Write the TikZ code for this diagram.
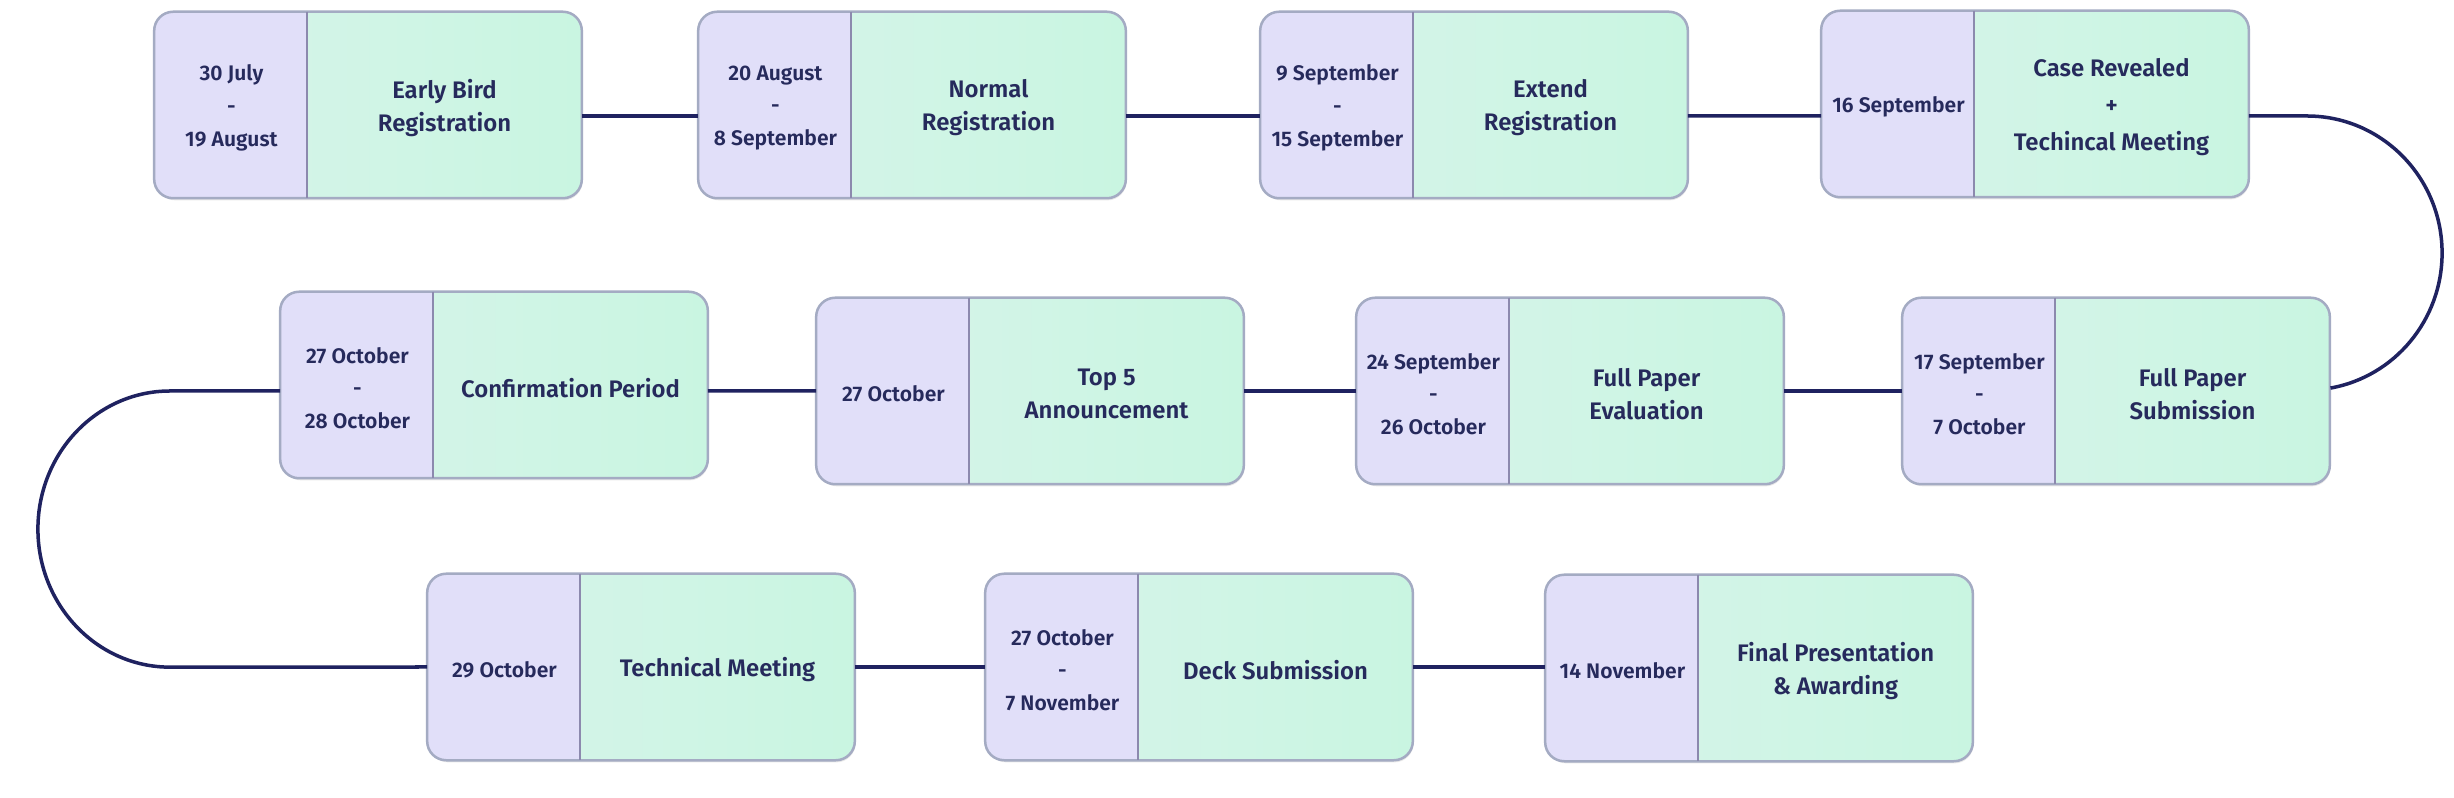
\documentclass[tikz,border=0pt]{standalone}
\usepackage{fontspec}
\setmainfont{Fira Sans}[BoldFont={Fira Sans SemiBold}]
\usetikzlibrary{shadows,calc}
\definecolor{lav}{HTML}{E1DFF9}
\definecolor{mintL}{HTML}{D8F4EB}
\definecolor{mintR}{HTML}{C9F5E1}
\definecolor{bord}{HTML}{A4ABC3}
\definecolor{divc}{HTML}{8C89AE}
\definecolor{txt}{HTML}{262A5C}
\definecolor{connc}{HTML}{1F2260}
\tikzset{
  boxshape/.style={rectangle, rounded corners=0.19cm, minimum width=4.26cm,
    minimum height=1.85cm, inner sep=0pt, left color=mintL, right color=mintR,
    drop shadow={opacity=0.18, shadow xshift=0.4pt, shadow yshift=-0.8pt}},
  boxborder/.style={draw=bord, line width=0.025cm, rounded corners=0.19cm},
  divline/.style={draw=divc, line width=0.02cm},
  datetext/.style={font=\bfseries\fontsize{6}{9.3}\selectfont, text=txt,
    align=center, inner sep=0pt},
  titletext/.style={font=\bfseries\fontsize{6.8}{9.4}\selectfont, text=txt,
    align=center, inner sep=0pt},
  conn/.style={draw=connc, line width=0.035cm},
}
\newcommand\tlbox[5]{%
  \node[boxshape] (#1) at (#2,#3) {};
  \begin{scope}
    \clip[rounded corners=0.19cm] (#1.north west) rectangle (#1.south east);
    \fill[lav] (#1.north west) rectangle ([xshift=1.53cm]#1.south west);
  \end{scope}
  \draw[boxborder] (#1.north west) rectangle (#1.south east);
  \draw[divline] ([xshift=1.53cm]#1.north west) -- ([xshift=1.53cm]#1.south west);
  \node[datetext] (#1-d) at ([xshift=-1.365cm,yshift=-0.03cm]#1.center) {#4};
  \node[titletext] (#1-t) at ([xshift=0.765cm,yshift=-0.03cm]#1.center) {#5};
}
\begin{document}
\begin{tikzpicture}[x=0.01cm, y=-0.01cm]
\fill[white] (0,0) rectangle (2454,798);
\useasboundingbox (0,0) rectangle (2454,798);

\tlbox{b1}{368}{105}{30 July\\-\\19 August}{Early Bird\\Registration}
\tlbox{b2}{912}{105}{20 August\\-\\8 September}{Normal\\Registration}
\tlbox{b3}{1474}{105}{9 September\\-\\15 September}{Extend\\Registration}
\tlbox{b4}{2035}{104}{16 September}{Case Revealed\\[1.2pt]+\\[1.2pt]Techincal Meeting}

\tlbox{b5}{494}{385}{27 October\\-\\28 October}{Confirmation Period}
\tlbox{b6}{1030}{391}{27 October}{Top 5\\Announcement}
\tlbox{b7}{1570}{391}{24 September\\-\\26 October}{Full Paper\\Evaluation}
\tlbox{b8}{2116}{391}{17 September\\-\\7 October}{Full Paper\\Submission}

\tlbox{b9}{641}{667}{29 October}{Technical Meeting}
\tlbox{b10}{1199}{667}{27 October\\-\\7 November}{Deck Submission}
\tlbox{b11}{1759}{668}{14 November}{Final Presentation\\\& Awarding}

% row 1
\draw[conn] ([yshift=-0.11cm]b1.east) -- ([yshift=-0.11cm]b2.west);
\draw[conn] ([yshift=-0.11cm]b2.east) -- ([yshift=-0.11cm]b3.west);
\draw[conn] ([yshift=-0.11cm]b3.east) -- ([yshift=-0.12cm]b4.west);
% right turn
\coordinate (rt) at (2307,116);
\draw[conn] ([yshift=-0.12cm]b4.east) -- (rt)
  arc[start angle=90, end angle=-80, x radius=1.35cm, y radius=1.37cm];
% row 2
\draw[conn] (b8.west) -- (b7.east);
\draw[conn] (b7.west) -- (b6.east);
\draw[conn] (b6.west) -- ([yshift=-0.06cm]b5.east);
% left turn
\coordinate (lt) at (170,391);
\draw[conn] ([yshift=-0.06cm]b5.west) -- (lt)
  arc[start angle=90, end angle=270, x radius=1.32cm, y radius=1.38cm]
  -- (b9.west);
% row 3
\draw[conn] (b9.east) -- (b10.west);
\draw[conn] (b10.east) -- (b11.west |- b10.east);
\end{tikzpicture}
\end{document}
